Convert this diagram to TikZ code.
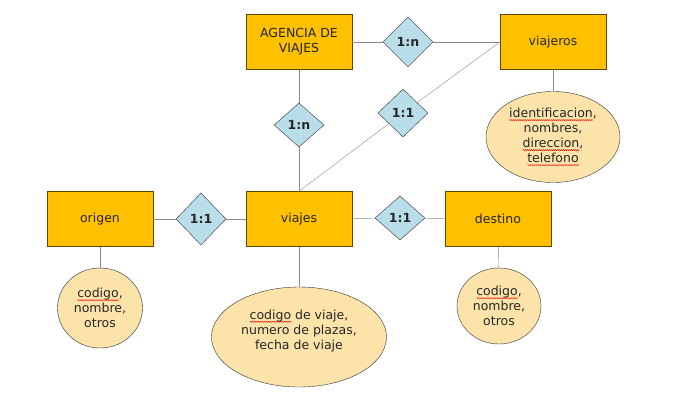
\documentclass[tikz,border=0pt]{standalone}
\usepackage{fontspec}
\setmainfont{DejaVu Sans}
\usetikzlibrary{shapes.geometric,decorations.pathmorphing}

\definecolor{boxfill}{HTML}{FFC000}
\definecolor{boxline}{HTML}{5F4700}
\definecolor{relfill}{HTML}{B9DDE9}
\definecolor{attfill}{HTML}{FBE3A9}
\definecolor{linkgray}{HTML}{8A8A8A}

% spell-check squiggle under a word
\newsavebox{\squigbox}
\newcommand{\squig}[1]{\sbox{\squigbox}{#1}\leavevmode\rlap{\tikz[x=1pt,y=1pt,baseline=0pt]
    \draw[red,line width=0.4pt,decorate,decoration={zigzag,amplitude=0.6pt,segment length=2pt}]
    (0,-2.5) -- (\wd\squigbox,-2.5);}\usebox{\squigbox}}

\tikzset{
    entity/.style={draw=boxline,fill=boxfill,minimum width=106pt,minimum height=55pt,inner sep=0pt,align=center},
    relation/.style={diamond,draw=black!80,fill=relfill,inner sep=0pt,font=\fontsize{12.5}{15}\selectfont\bfseries},
    attrib/.style={ellipse,draw=black!80,fill=attfill,inner sep=0pt,align=center},
    link/.style={draw=linkgray,thin}
}

\begin{document}
\begin{tikzpicture}[x=1pt,y=-1pt,font=\fontsize{12.5}{15}\selectfont,text=black!85]
    
    % white background sets the size
    \useasboundingbox[fill=white] (0,0) rectangle (689,418);
    
    % entities
    \node[entity] (agencia) at (299,42) {AGENCIA DE\\VIAJES};
    \node[entity] (viajeros) at (553,42) {viajeros};
    \node[entity] (origen) at (100,219) {origen};
    \node[entity] (viajes) at (299,219) {viajes};
    \node[entity] (destino) at (498,219) {destino};
    
    % relations
    \node[relation,minimum width=50pt,minimum height=50pt] (agviajeros) at (408,42) {1:n};
    \node[relation,minimum width=50pt,minimum height=44pt] (agviajes) at (299,125) {1:n};
    \node[relation,minimum width=50pt,minimum height=48pt] (viajviajeros) at (403,113) {1:1};
    \node[relation,minimum width=50pt,minimum height=52pt] (origviajes) at (201,219) {1:1};
    \node[relation,minimum width=50pt,minimum height=44pt] (viajdestino) at (400,218) {1:1};
    
    % attributes
    \node[attrib,minimum width=134pt,minimum height=91pt] (attviajeros) at (553,137)
        {\squig{identificacion},\\nombres,\\\squig{direccion},\\\squig{telefono}};
    \node[attrib,minimum width=85pt,minimum height=80pt] (attorigen) at (100,308)
        {\squig{codigo},\\nombre,\\otros};
    \node[attrib,minimum width=175pt,minimum height=100pt,text depth=15pt] (attviajes) at (299,337)
        {\squig{codigo} de viaje,\\numero de plazas,\\fecha de viaje};
    \node[attrib,minimum width=84pt,minimum height=76pt] (attdestino) at (499,306)
        {\squig{codigo},\\nombre,\\otros};
    
    % connections
    \draw[link] (agencia) -- (agviajeros) -- (viajeros);
    \draw[link] (agencia) -- (agviajes) -- (viajes);
    \draw[link] (viajes.north) -- (viajviajeros) -- (viajeros.west);
    \draw[link] (origen) -- (origviajes) -- (viajes);
    \draw[link] (viajes) -- (viajdestino) -- (destino);
    
    % attribute lines
    \draw[link] (viajeros) -- (attviajeros);
    \draw[link] (origen) -- (attorigen);
    \draw[link] (viajes) -- (attviajes);
    \draw[link] (destino) -- (attdestino);
    
\end{tikzpicture}
\end{document}
